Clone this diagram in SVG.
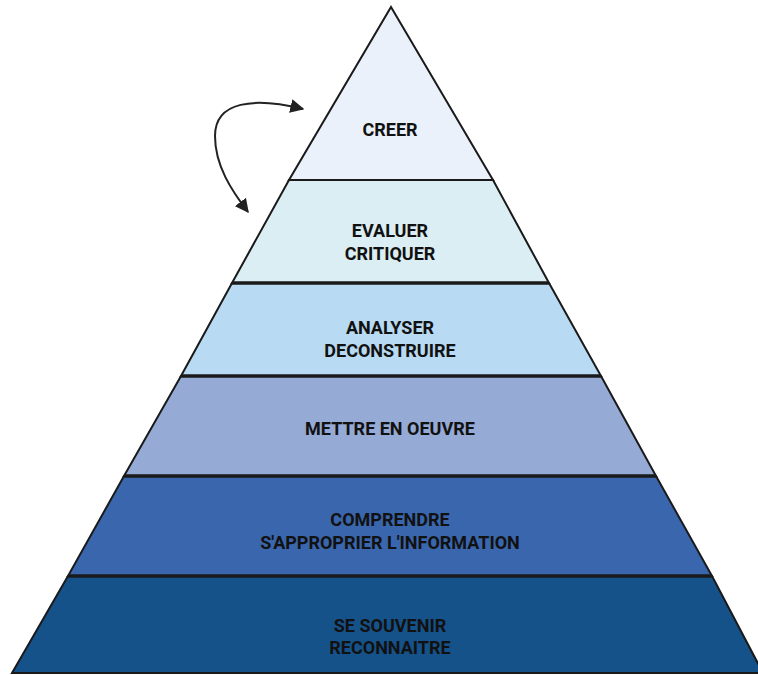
<svg xmlns="http://www.w3.org/2000/svg" width="758" height="675" viewBox="0 0 758 675">
<style>
.layer{stroke:#1a1a1a;stroke-width:2;stroke-linejoin:miter}
.div{stroke:#1a1a1a;stroke-width:3.5}
.t{font-family:Roboto,"Liberation Sans",sans-serif;font-weight:bold;font-size:18px;fill:#111;text-anchor:middle}
.conn{fill:none;stroke:#222;stroke-width:2}
</style>
<defs>
<marker id="ah" viewBox="0 0 10 10" refX="9" refY="5" markerWidth="7" markerHeight="7" orient="auto-start-reverse" markerUnits="strokeWidth">
<path d="M0,0 L10,5 L0,10 Z" fill="#222"/>
</marker>
</defs>
<rect width="758" height="675" fill="#fff"/>
<g id="layer6">
<polygon class="layer" points="68,576 712,576 763,673 12,673" fill="#16528A"/>
<text class="t" x="390" y="632">SE SOUVENIR</text>
<text class="t" x="390" y="654">RECONNAITRE</text>
</g>
<g id="layer5">
<polygon class="layer" points="124,476 656,476 712,576 68,576" fill="#3A66AE"/>
<text class="t" x="390" y="526">COMPRENDRE</text>
<text class="t" x="390" y="549">S'APPROPRIER L'INFORMATION</text>
</g>
<g id="layer4">
<polygon class="layer" points="181,376 601,376 656,476 124,476" fill="#95AAD4"/>
<text class="t" x="390" y="435">METTRE EN OEUVRE</text>
</g>
<g id="layer3">
<polygon class="layer" points="232,283 549,283 601,376 181,376" fill="#B8DAF2"/>
<text class="t" x="390" y="334">ANALYSER</text>
<text class="t" x="390" y="357">DECONSTRUIRE</text>
</g>
<g id="layer2">
<polygon class="layer" points="289,180 493,180 549,283 232,283" fill="#DBEEF3"/>
<text class="t" x="390" y="237">EVALUER</text>
<text class="t" x="390" y="260">CRITIQUER</text>
</g>
<g id="layer1">
<polygon class="layer" points="391,7 493,180 289,180" fill="#EAF1FB"/>
<text class="t" x="390" y="136">CREER</text>
</g>
<g id="dividers">
<line class="div" x1="232" y1="283" x2="549" y2="283"/>
<line class="div" x1="181" y1="376" x2="601" y2="376"/>
<line class="div" x1="124" y1="476" x2="656" y2="476"/>
<line class="div" x1="68" y1="576" x2="712" y2="576"/>
</g>
<g id="connectors">
<path class="conn" d="M303,109 C254,97 215,101 215,136 C215,166 232,191 248,212" marker-start="url(#ah)" marker-end="url(#ah)"/>
</g>
</svg>
